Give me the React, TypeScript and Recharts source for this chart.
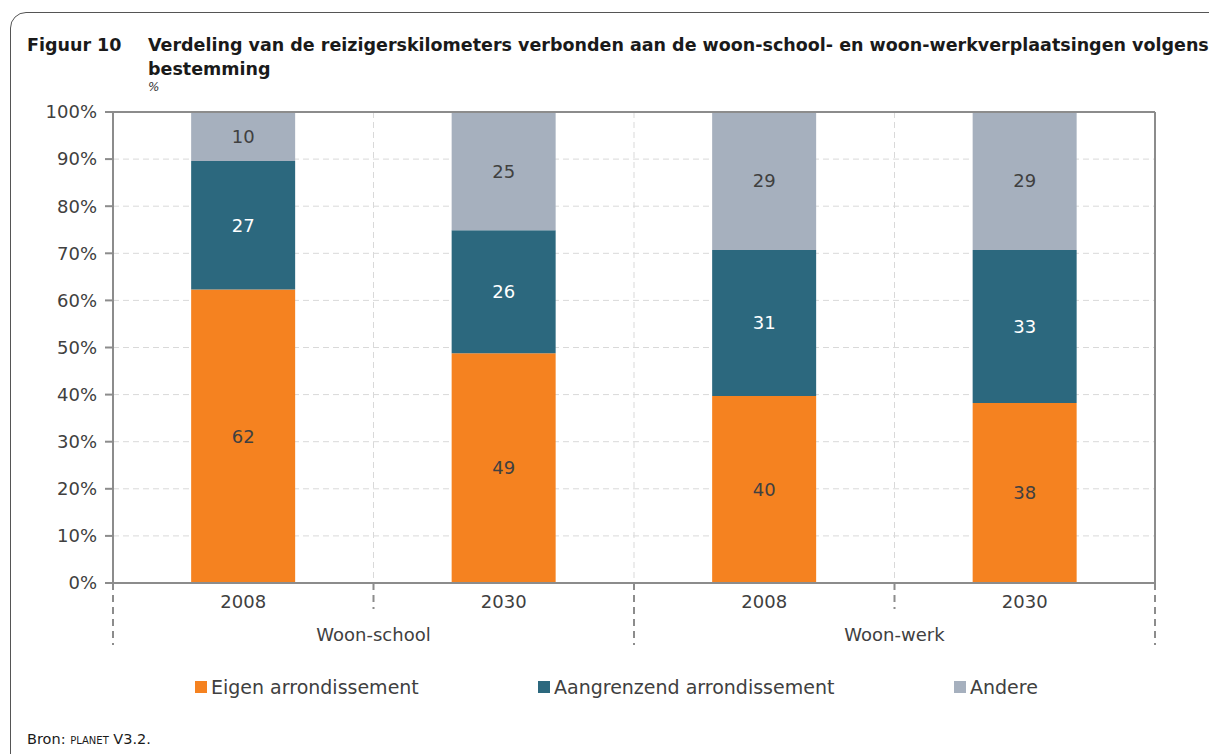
import React from 'react';
import {
  BarChart,
  Bar,
  XAxis,
  YAxis,
  CartesianGrid,
  LabelList,
} from 'recharts';

const years = ['2008', '2030', '2008', '2030'];
const groups = ['Woon-school', '', 'Woon-werk', ''];
const eigen = [62.3, 48.8, 39.7, 38.2];
const aangrenzend = [27.3, 26.1, 31.0, 32.5];
const andere = [10.4, 25.1, 29.3, 29.3];
const yTicks = [0, 10, 20, 30, 40, 50, 60, 70, 80, 90, 100];

const seriesNames = ['Eigen arrondissement', 'Aangrenzend arrondissement', 'Andere'];
const seriesColors = ['#F58220', '#2C687E', '#A6B0BE'];

const data = years.map((year, i) => ({
  year,
  group: groups[i],
  eigen: eigen[i],
  aangrenzend: aangrenzend[i],
  andere: andere[i],
}));

const FONT = '"DejaVu Sans", sans-serif';
const W = 1209;
const H = 754;
const Y_AXIS_W = 60;
const RIGHT_AXIS_W = 2;
const X_AXIS_H = 100;
const margin = { top: 111, right: 52, bottom: 171 - X_AXIS_H, left: 113 - Y_AXIS_W };
const PLOT_W = W - margin.left - Y_AXIS_W - margin.right - RIGHT_AXIS_W;
const HALF_BAND = PLOT_W / years.length / 2;
const AXIS_GRAY = '#8C8C8C';
const LEGEND_LEFT = [195, 538, 954];

const XTick = (props: any) => {
  const { x, y, payload, index } = props;
  const last = index === years.length - 1;
  const boundary = (bx: number, long: boolean) => (
    <line
      x1={bx}
      x2={bx}
      y1={y}
      y2={y + (long ? 62 : 26)}
      stroke={AXIS_GRAY}
      strokeWidth={2}
      strokeDasharray="7 5"
    />
  );
  return (
    <g>
      {boundary(x - HALF_BAND, index % 2 === 0)}
      {last && boundary(x + HALF_BAND, true)}
      <text x={x} y={y + 25} textAnchor="middle" fill="#404040" fontSize={18} fontFamily={FONT}>
        {payload.value}
      </text>
      {groups[index] && (
        <text x={x + HALF_BAND} y={y + 58} textAnchor="middle" fill="#404040" fontSize={18} fontFamily={FONT}>
          {groups[index]}
        </text>
      )}
    </g>
  );
};

const fmt = (v: any) => Math.round(Number(v));

export default function App() {
  return (
    <div style={{ position: 'absolute', left: 0, top: 0, width: W, height: H, overflow: 'hidden', background: '#fff', fontFamily: FONT }}>
      <div
        style={{
          position: 'absolute',
          left: 10,
          top: 12,
          width: W + 40,
          height: H,
          border: '1.5px solid #555',
          borderTopLeftRadius: 16,
          borderBottomLeftRadius: 8,
        }}
      />
      <div style={{ position: 'absolute', left: 27, top: 33, fontSize: 17.5, fontWeight: 'bold', color: '#1a1a1a', lineHeight: '24px' }}>
        Figuur 10
      </div>
      <div style={{ position: 'absolute', left: 148, top: 33, width: 1070, fontSize: 17.5, fontWeight: 'bold', color: '#1a1a1a', lineHeight: '24px' }}>
        Verdeling van de reizigerskilometers verbonden aan de woon-school- en woon-werkverplaatsingen volgens
        <br />
        bestemming
      </div>
      <div style={{ position: 'absolute', left: 148, top: 80, fontSize: 12, fontStyle: 'italic', color: '#333' }}>%</div>

      <div style={{ position: 'absolute', left: 0, top: 0 }}>
        <BarChart width={W} height={H} data={data} margin={margin} barCategoryGap="30%">
          <CartesianGrid
            stroke="#D9D9D9"
            strokeDasharray="6 4"
            verticalCoordinatesGenerator={({ offset }: any) =>
              [1, 2, 3].map((i) => offset.left + (offset.width * i) / years.length)
            }
          />
          <XAxis
            dataKey="year"
            axisLine={{ stroke: AXIS_GRAY, strokeWidth: 2 }}
            tickLine={false}
            tickSize={0}
            tickMargin={0}
            height={X_AXIS_H}
            tick={<XTick />}
            interval={0}
          />
          <XAxis xAxisId="top" orientation="top" dataKey="year" height={1} tick={false} tickLine={false} axisLine={{ stroke: AXIS_GRAY, strokeWidth: 2 }} />
          <YAxis
            domain={[0, 100]}
            ticks={yTicks}
            width={Y_AXIS_W}
            tickFormatter={(v) => `${v}%`}
            axisLine={{ stroke: AXIS_GRAY, strokeWidth: 2 }}
            tickLine={{ stroke: AXIS_GRAY, strokeWidth: 2 }}
            tickSize={8}
            tickMargin={8}
            tick={{ fill: '#404040', fontSize: 18, fontFamily: FONT }}
            interval={0}
          />
          <YAxis yAxisId="right" orientation="right" domain={[0, 100]} width={RIGHT_AXIS_W} tick={false} tickLine={false} axisLine={{ stroke: AXIS_GRAY, strokeWidth: 2 }} />
          <Bar dataKey="eigen" stackId="a" fill={seriesColors[0]} isAnimationActive={false}>
            <LabelList dataKey="eigen" position="center" formatter={fmt} fill="#404040" fontSize={18} fontFamily={FONT} />
          </Bar>
          <Bar dataKey="aangrenzend" stackId="a" fill={seriesColors[1]} isAnimationActive={false}>
            <LabelList dataKey="aangrenzend" position="center" formatter={fmt} fill="#ffffff" fontSize={18} fontFamily={FONT} />
          </Bar>
          <Bar dataKey="andere" stackId="a" fill={seriesColors[2]} isAnimationActive={false}>
            <LabelList dataKey="andere" position="center" formatter={fmt} fill="#404040" fontSize={18} fontFamily={FONT} />
          </Bar>
        </BarChart>
      </div>

      {seriesNames.map((name, i) => (
        <div
          key={name}
          style={{
            position: 'absolute',
            left: LEGEND_LEFT[i],
            top: 676,
            display: 'flex',
            alignItems: 'center',
            fontSize: 19,
            color: '#404040',
          }}
        >
          <span style={{ display: 'inline-block', width: 12, height: 12, background: seriesColors[i], marginRight: 4 }} />
          {name}
        </div>
      ))}

      <div style={{ position: 'absolute', left: 27, top: 731, fontSize: 14.5, color: '#1a1a1a' }}>
        Bron: <span style={{ fontVariant: 'small-caps' }}>planet</span> V3.2.
      </div>
    </div>
  );
}
